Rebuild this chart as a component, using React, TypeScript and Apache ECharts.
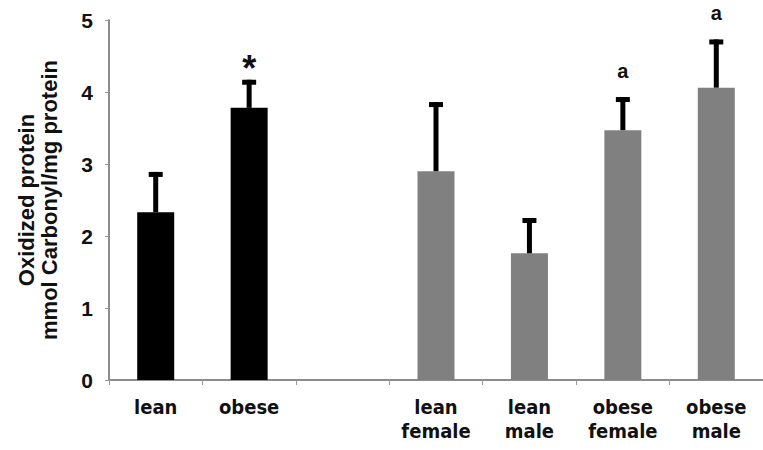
import React, { useEffect, useRef } from "react";
import * as echarts from "echarts";

// Groups along the x axis; the empty slot separates pooled vs. sex-split groups
const categories = ["lean", "obese", "", "lean\nfemale", "lean\nmale", "obese\nfemale", "obese\nmale"];
// Mean oxidized protein (mmol carbonyl / mg protein)
const means: (number | null)[] = [2.33, 3.78, null, 2.9, 1.76, 3.47, 4.06];
// Upper end of the error bar (mean + SEM)
const upper: (number | null)[] = [2.89, 4.17, null, 3.86, 2.25, 3.93, 4.73];
// Significance marks above the error bars
const marks = ["", "*", "", "", "", "a", "a"];
const barColors = ["#000000", "#000000", "#000000", "#808080", "#808080", "#808080", "#808080"];

const ARIAL = "Liberation Sans, Arial, sans-serif";
const CONDENSED = "DejaVu Sans Condensed, DejaVu Sans, sans-serif";

export default function App() {
  const ref = useRef<HTMLDivElement>(null);

  useEffect(() => {
    if (!ref.current) return;
    const chart = echarts.init(ref.current, undefined, { renderer: "svg" });

    const barData = means.map((v, i) =>
      v == null ? "-" : { value: v, itemStyle: { color: barColors[i] } }
    );
    const errData = means
      .map((v, i) => (v == null ? null : [i, v, upper[i], marks[i]]))
      .filter((d) => d !== null);

    chart.setOption({
      animation: false,
      backgroundColor: "#ffffff",
      grid: { left: 109, right: -6, top: 20, bottom: 70 },
      xAxis: {
        type: "category",
        data: categories,
        boundaryGap: true,
        axisLine: { lineStyle: { color: "#8c8c8c", width: 2 } },
        axisTick: { show: true, interval: 0, length: 5, lineStyle: { color: "#9a9a9a", width: 1 } },
        axisLabel: {
          interval: 0,
          margin: 15,
          color: "#111",
          fontFamily: CONDENSED,
          fontWeight: "bold",
          fontSize: 20,
          lineHeight: 24,
        },
      },
      yAxis: {
        type: "value",
        min: 0,
        max: 5,
        interval: 1,
        name: "Oxidized protein\nmmol Carbonyl/mg protein",
        nameLocation: "middle",
        nameRotate: 90,
        nameGap: 48,
        nameTextStyle: {
          color: "#111",
          fontFamily: ARIAL,
          fontWeight: "bold",
          fontSize: 22,
          lineHeight: 23,
        },
        splitLine: { show: false },
        axisLine: { show: true, lineStyle: { color: "#8c8c8c", width: 2 } },
        axisTick: { show: true, length: 4, lineStyle: { color: "#9a9a9a", width: 1 } },
        axisLabel: {
          margin: 16,
          color: "#111",
          fontFamily: ARIAL,
          fontWeight: "bold",
          fontSize: 21,
        },
      },
      series: [
        {
          type: "bar",
          data: barData,
          barWidth: 37,
          z: 2,
        },
        {
          type: "custom",
          data: errData,
          z: 3,
          encode: { x: 0, y: [1, 2] },
          renderItem: (params: any, api: any) => {
            const i = api.value(0);
            const top = api.coord([i, api.value(1)]);
            const cap = api.coord([i, api.value(2)]);
            const mark = marks[i];
            const children: any[] = [
              {
                type: "rect",
                shape: { x: top[0] - 2.5, y: cap[1], width: 5, height: top[1] - cap[1] },
                style: { fill: "#000" },
              },
              {
                type: "rect",
                shape: { x: top[0] - 7, y: cap[1], width: 14, height: 5 },
                style: { fill: "#000" },
              },
            ];
            if (mark) {
              const isStar = mark === "*";
              children.push({
                type: "text",
                x: cap[0],
                y: isStar ? cap[1] + 7 : cap[1] - 16,
                style: {
                  text: mark,
                  fill: "#111",
                  fontFamily: ARIAL,
                  fontWeight: "bold",
                  fontSize: isStar ? 36 : 20,
                  textAlign: "center",
                  textVerticalAlign: "bottom",
                },
              });
            }
            return { type: "group", children };
          },
        },
      ],
    });

    return () => chart.dispose();
  }, []);

  return (
    <div
      ref={ref}
      style={{ position: "fixed", left: 0, top: 0, width: 763, height: 450, background: "#fff" }}
    />
  );
}
